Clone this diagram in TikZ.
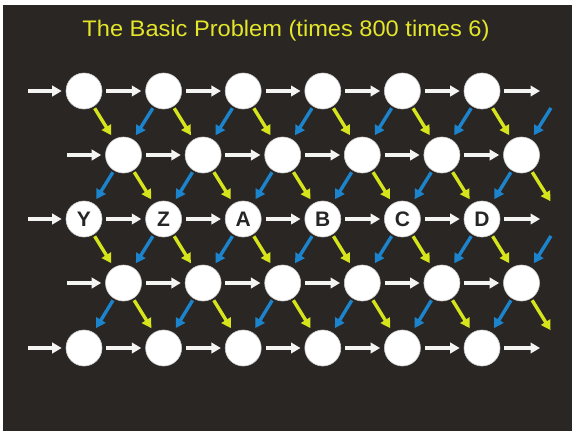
\documentclass[tikz,border=0pt]{standalone}
\usepackage{fontspec}
\setmainfont{Liberation Sans}
\usetikzlibrary{arrows.meta}
\definecolor{bg}{HTML}{2A2624}
\definecolor{ttl}{HTML}{E4E62A}
\definecolor{yel}{HTML}{D6E41C}
\definecolor{blu}{HTML}{1C84CC}
\definecolor{wht}{HTML}{F4F4F2}
\begin{document}
\begin{tikzpicture}[x=1pt,y=-1pt,
  cell/.style={circle,fill=white,draw=gray!40,line width=0.6pt,minimum size=36pt,inner sep=0pt,
    font=\fontsize{21}{21}\selectfont\bfseries,text=black!85},
  arr/.style={line width=3.4pt,-{Triangle[length=9.5pt,width=10.5pt]}},
  harrow/.style={arr,draw=wht,shorten <=4pt,shorten >=4pt},
  yarrow/.style={arr,draw=yel,shorten <=2pt,shorten >=5pt},
  barrow/.style={arr,draw=blu,shorten <=2pt,shorten >=5pt}]
\useasboundingbox (0,0) rectangle (572,431);
\fill[white] (0,0) rectangle (572,431);
\fill[bg] (3,5) rectangle (572,431);
\node[text=ttl,font=\fontsize{22.5}{26}\selectfont,xscale=1.05] (title) at (286,31) {The Basic Problem (times 800 times 6)};
% odd rows
\foreach \r/\y in {1/91,5/348}{
  \foreach \k in {1,...,6}{
    \node[cell] (n\r-\k) at ({84+79.6*(\k-1)},\y) {};
  }
}
\foreach \k/\l in {1/Y,2/Z,3/A,4/B,5/C,6/D}{
  \node[cell] (n3-\k) at ({84+79.6*(\k-1)},219) {\l};
}
% even rows
\foreach \r/\y in {2/155,4/283}{
  \foreach \k in {1,...,6}{
    \node[cell] (n\r-\k) at ({123.5+79.6*(\k-1)},\y) {};
  }
}
% auxiliary coordinates
\foreach \r/\y in {1/91,3/219,5/348}{
  \coordinate (s\r) at (28,\y);
  \coordinate (e\r) at (540,\y);
  \coordinate (v\r) at (561.6,\y);
}
\foreach \r/\y in {2/155,4/283}{
  \coordinate (s\r) at (67,\y);
}
% horizontal arrows
\foreach \r in {1,...,5}{
  \draw[harrow,shorten <=0pt] (s\r) -- (n\r-1);
  \foreach \k in {1,...,5}{
    \pgfmathtruncatemacro{\kn}{\k+1}
    \draw[harrow] (n\r-\k) -- (n\r-\kn);
  }
}
\foreach \r in {1,3,5}{
  \draw[harrow,shorten >=0pt] (n\r-6) -- (e\r);
}
% diagonals from odd rows to even rows
\foreach \r in {1,3}{
  \pgfmathtruncatemacro{\rn}{\r+1}
  \foreach \k in {1,...,6}{
    \draw[yarrow] (n\r-\k) -- (n\rn-\k);
  }
  \foreach \k in {2,...,6}{
    \pgfmathtruncatemacro{\kp}{\k-1}
    \draw[barrow] (n\r-\k) -- (n\rn-\kp);
  }
  \draw[barrow,shorten <=20pt] (v\r) -- (n\rn-6);
}
% diagonals from even rows to odd rows
\foreach \r in {2,4}{
  \pgfmathtruncatemacro{\rn}{\r+1}
  \foreach \k in {1,...,6}{
    \draw[barrow] (n\r-\k) -- (n\rn-\k);
  }
  \foreach \k in {1,...,5}{
    \pgfmathtruncatemacro{\kn}{\k+1}
    \draw[yarrow] (n\r-\k) -- (n\rn-\kn);
  }
  \draw[yarrow,shorten >=21pt] (n\r-6) -- (v\rn);
}
\end{tikzpicture}
\end{document}
